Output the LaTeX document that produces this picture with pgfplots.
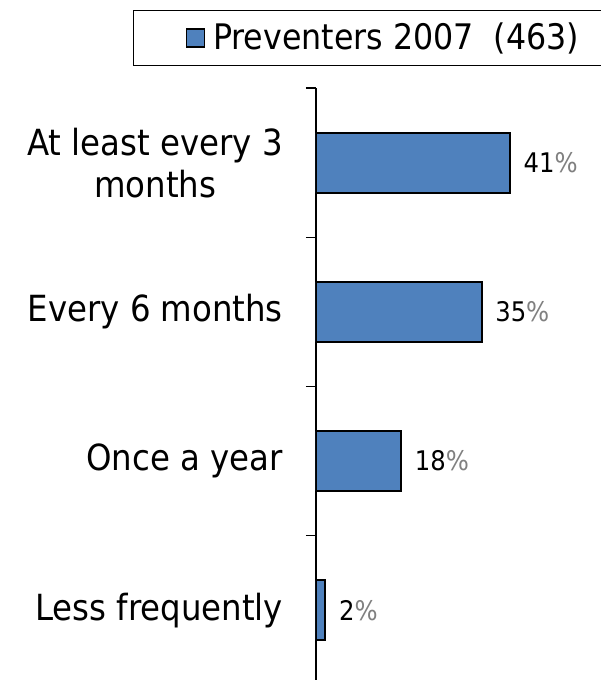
\documentclass[border=0pt]{standalone}
\usepackage{fontspec}
\setmainfont{DejaVu Sans Condensed}
\usepackage{pgfplots}
\pgfplotsset{compat=1.18}
\definecolor{barblue}{RGB}{79,129,189}
\begin{document}
\begin{tikzpicture}
\useasboundingbox (0,0) rectangle (300pt,-340pt);
\begin{axis}[
  at={(158pt,-44pt)}, anchor=north west,
  scale only axis, width=142pt, height=298.5pt,
  xbar, bar width=30pt,
  xmin=0, xmax=60,
  ymin=-0.5, ymax=3.5, y dir=reverse,
  axis x line=none,
  axis y line*=left,
  y axis line style={line width=0.6pt},
  ytick={0,1,2,3},
  yticklabels={{At least every 3\\months},{Every 6 months},{Once a year},{Less frequently}},
  major tick length=0pt,
  minor ytick={-0.5,0.5,1.5,2.5,3.5},
  minor tick length=5pt,
  tick align=outside,
  tick style={line width=0.6pt, black},
  /pgf/number format/assume math mode=true,
  yticklabel style={align=center, font=\fontsize{18}{21}\selectfont, xshift=-13pt},
  nodes near coords={\pgfmathprintnumber{\pgfplotspointmeta}{\color{gray}\%}},
  point meta=x,
  nodes near coords style={font=\fontsize{13.5}{15}\selectfont, anchor=west, xshift=3pt, text=black},
  legend style={at={(axis description cs:0,1)}, anchor=north west, xshift=-91.5pt, yshift=39pt,
    draw=black, line width=0.6pt, inner xsep=26pt, inner ysep=4.2pt, font=\fontsize{17.6}{20}\selectfont},
  legend image code/.code={\draw[fill=barblue, draw=black, line width=0.8pt] (0pt,-4.5pt) rectangle (9pt,4.5pt);},
]
\addplot[fill=barblue, draw=black, line width=1pt] coordinates {(41,0) (35,1) (18,2) (2,3)};
\addlegendentry{\makebox[240pt][l]{\hspace{2pt}Preventers 2007\ \ (463)}}
\end{axis}
\end{tikzpicture}
\end{document}
